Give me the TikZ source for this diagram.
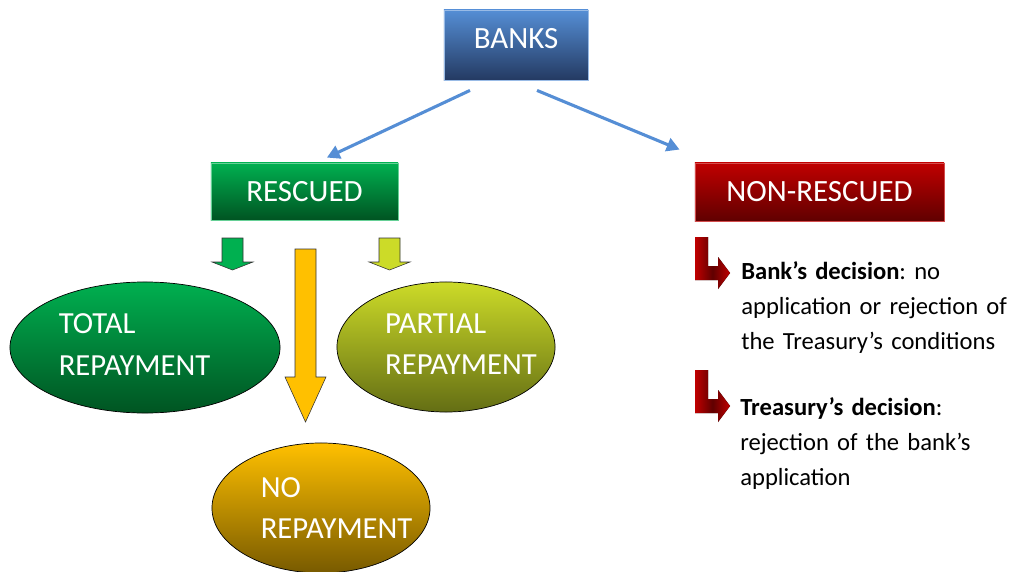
\documentclass[tikz,border=0pt]{standalone}
\usepackage{fontspec}
\setmainfont{Carlito}
\usetikzlibrary{arrows.meta, shapes.geometric}
\frenchspacing

\definecolor{bankblue}{RGB}{85,142,213}
\definecolor{bankbluedark}{RGB}{36,58,98}
\definecolor{savegreen}{RGB}{0,176,80}
\definecolor{savegreendark}{RGB}{0,84,34}
\definecolor{lossred}{RGB}{192,0,0}
\definecolor{lossreddark}{RGB}{96,0,0}
\definecolor{partlime}{RGB}{204,219,40}
\definecolor{partlimedark}{RGB}{100,110,20}
\definecolor{noamber}{RGB}{255,192,0}
\definecolor{noamberdark}{RGB}{120,90,0}

\begin{document}
\begin{tikzpicture}[
    x=0.025cm, y=-0.025cm,
    box/.style={rectangle, inner sep=0pt, text=white, line width=0.6pt,
        font=\fontsize{22}{26}\selectfont},
    oval/.style={ellipse, draw=black, line width=0.5pt, inner sep=0pt},
    ovaltext/.style={align=left, text=white, inner sep=0pt,
        font=\fontsize{21.8}{29.5}\selectfont},
    link/.style={bankblue, line width=2.2pt, -{Triangle[length=0.32cm,width=0.34cm]}},
    blockarrow/.style={draw=black!80, line width=0.4pt},
    bentarrow/.style={left color=lossred, right color=lossred, middle color=lossreddark},
    note/.style={anchor=base west, text width=6.8cm, align=left, inner sep=0pt,
        font=\fontsize{17.5}{24.9}\selectfont}
]

\useasboundingbox (0,0) rectangle (1010,571);

% Boxes
\node[box, draw=bankblue!60!white, top color=bankblue, bottom color=bankbluedark,
    minimum width=3.6cm, minimum height=1.75cm, text depth=0.35cm] (banks) at (516,45) {BANKS};
\node[box, draw=savegreen!60!white, top color=savegreen, bottom color=savegreendark,
    minimum width=4.675cm, minimum height=1.425cm] (rescued) at (304.5,191.5) {RESCUED};
\node[box, draw=lossred!70!white, top color=lossred, bottom color=lossreddark,
    minimum width=6.225cm, minimum height=1.45cm] (nonrescued) at (819.5,192) {NON-RESCUED};

% Links from the banks
\draw[link] ([xshift=-1.15cm,yshift=-0.25cm]banks.south) -- ([xshift=0.56cm,yshift=0.125cm]rescued.north);
\draw[link] ([xshift=0.525cm,yshift=-0.25cm]banks.south) -- ([xshift=-0.375cm,yshift=0.325cm]nonrescued.north west);

% Block arrows under RESCUED
\draw[blockarrow, fill=savegreen]
    (222,238) -- (243,238) -- (243,262) -- (253,262) -- (232.5,270) -- (212,262) -- (222,262) -- cycle;
\draw[blockarrow, fill=partlime]
    (379,238) -- (400,238) -- (400,262) -- (410,262) -- (389.5,270) -- (369,262) -- (379,262) -- cycle;
\draw[blockarrow, fill=noamber]
    (295,249) -- (316,249) -- (316,377) -- (326,377) -- (305.5,422) -- (285,377) -- (295,377) -- cycle;

% Outcomes
\node[oval, top color=savegreen, bottom color=savegreendark,
    minimum width=6.75cm, minimum height=3.275cm] (total) at (145,347.5) {};
\node[ovaltext, xshift=-0.26cm, yshift=0.075cm] (totaltxt) at (total) {TOTAL\\REPAYMENT};

\node[oval, top color=partlime, bottom color=partlimedark,
    minimum width=5.45cm, minimum height=3.25cm] (partial) at (446,347) {};
\node[ovaltext, xshift=0.375cm, yshift=0.075cm] (partialtxt) at (partial) {PARTIAL\\REPAYMENT};

\node[oval, top color=noamber, bottom color=noamberdark,
    minimum width=5.45cm, minimum height=3.25cm] (norepay) at (321,508) {};
\node[ovaltext, xshift=0.39cm] (norepaytxt) at (norepay) {NO\\REPAYMENT};

% Bent arrows for the non-rescued banks
\foreach \t in {237,370}
{
    \fill[bentarrow] (695,\t) -- (708,\t) -- (708,\t+29) -- (718,\t+29) -- (718,\t+20)
        -- (730,\t+36) -- (718,\t+52) -- (718,\t+43) -- (695,\t+43) -- cycle;
}

% Notes
\node[note] (bankdec) at (741,279)
    {\textbf{Bank’s decision}: no\\application or rejection of\\the Treasury’s conditions};
\node[note] (treasdec) at (740,415)
    {\textbf{Treasury’s decision}:\\rejection of the bank’s\\application};

\end{tikzpicture}
\end{document}
